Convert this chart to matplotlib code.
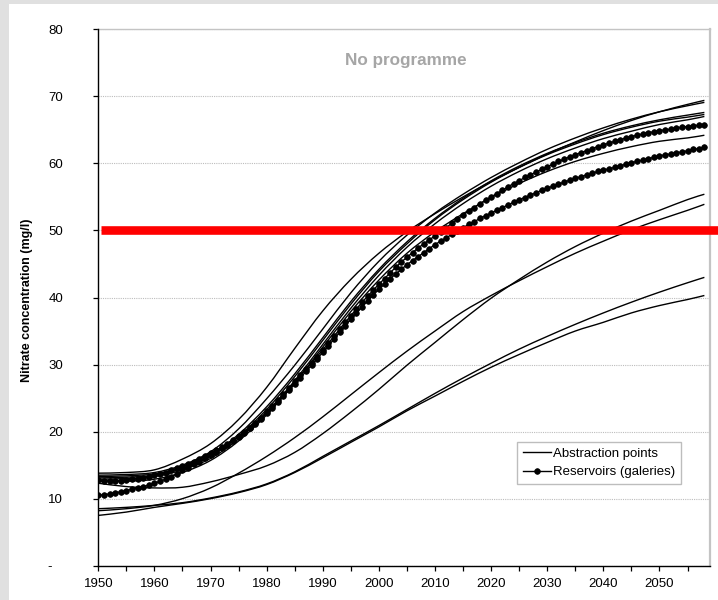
import matplotlib
matplotlib.use("Agg")
import matplotlib.pyplot as plt
from matplotlib.patches import Rectangle, PathPatch
from matplotlib.path import Path
from matplotlib.lines import Line2D
from matplotlib.ticker import MultipleLocator, FixedLocator
import matplotlib.transforms as mtransforms

plt.rcParams['font.family'] = ['Liberation Sans', 'DejaVu Sans']

# ---- data -------------------------------------------------------------
years_5 = [1950, 1955, 1960, 1965, 1970, 1975, 1980, 1985, 1990, 1995,
           2000, 2005, 2010, 2015, 2020, 2025, 2030, 2035, 2040, 2045,
           2050, 2055, 2058]

# nitrate concentration (mg/l) at individual abstraction points
abstraction_1 = [13.8, 13.9, 14.3, 15.9, 18.2, 21.8, 26.6, 32.4, 38.0, 42.7, 46.6, 49.8,
                 52.5, 55.0, 57.3, 59.4, 61.4, 63.2, 64.9, 66.4, 67.7, 68.8, 69.4]
abstraction_2 = [13.5, 13.6, 13.9, 15.0, 17.0, 20.4, 24.9, 29.9, 35.3, 40.7, 45.4, 49.3,
                 52.6, 55.4, 57.9, 60.1, 62.1, 63.8, 65.3, 66.6, 67.7, 68.6, 69.1]
abstraction_3 = [13.3, 13.4, 13.7, 14.7, 16.5, 19.6, 23.7, 28.6, 34.0, 39.4, 44.2, 48.3,
                 51.8, 54.8, 57.4, 59.6, 61.5, 63.1, 64.5, 65.6, 66.5, 67.2, 67.6]
abstraction_4 = [13.1, 13.2, 13.5, 14.5, 16.3, 19.3, 23.3, 28.2, 33.6, 39.0, 43.9, 48.0,
                 51.6, 54.6, 57.2, 59.4, 61.3, 62.9, 64.3, 65.4, 66.3, 66.9, 67.3]
abstraction_5 = [12.9, 13.0, 13.3, 14.3, 16.0, 18.9, 22.8, 27.6, 33.0, 38.4, 43.3, 47.5,
                 51.0, 54.0, 56.6, 58.8, 60.7, 62.3, 63.7, 64.8, 65.8, 66.5, 67.0]
abstraction_6 = [12.6, 12.6, 12.9, 13.9, 15.7, 18.6, 22.5, 27.3, 32.6, 37.9, 42.6, 46.6,
                 49.8, 52.5, 54.9, 57.0, 58.8, 60.3, 61.5, 62.5, 63.3, 63.8, 64.2]
abstraction_7 = [8.2, 8.5, 9.0, 10.0, 11.6, 13.8, 16.3, 19.1, 22.2, 25.5, 28.8, 32.0,
                 35.0, 37.9, 40.3, 42.5, 44.6, 46.6, 48.4, 50.1, 51.6, 53.0, 53.9]
abstraction_8 = [12.3, 11.8, 11.6, 11.7, 12.5, 13.6, 14.9, 16.9, 19.7, 22.9, 26.3, 29.9,
                 33.3, 36.7, 39.9, 42.7, 45.3, 47.6, 49.6, 51.4, 53.0, 54.6, 55.4]
abstraction_9 = [8.5, 8.7, 9.0, 9.4, 10.1, 11.0, 12.2, 14.0, 16.3, 18.6, 20.9, 23.3,
                 25.7, 28.0, 30.2, 32.3, 34.2, 36.0, 37.7, 39.3, 40.8, 42.2, 43.0]
abstraction_10 = [7.5, 8.0, 8.7, 9.3, 10.0, 10.9, 12.1, 13.9, 16.1, 18.4, 20.7, 23.1,
                  25.3, 27.5, 29.6, 31.5, 33.3, 35.0, 36.3, 37.7, 38.8, 39.7, 40.3]

abstraction_points = [abstraction_1, abstraction_2, abstraction_3, abstraction_4,
                      abstraction_5, abstraction_6, abstraction_7, abstraction_8,
                      abstraction_9, abstraction_10]

# yearly values for the two reservoirs (galleries), 1950-2058
years_1 = list(range(1950, 2059))
reservoir_1 = [
    12.8, 12.7, 12.7, 12.7, 12.7, 12.8, 12.9, 13.0, 13.1, 13.3,
    13.5, 13.7, 13.9, 14.2, 14.5, 14.8, 15.1, 15.5, 15.9, 16.3,
    16.8, 17.2, 17.7, 18.2, 18.7, 19.3, 19.9, 20.6, 21.3, 22.1,
    23.0, 23.8, 24.7, 25.6, 26.5, 27.5, 28.4, 29.3, 30.3, 31.2,
    32.2, 33.2, 34.2, 35.3, 36.3, 37.3, 38.3, 39.3, 40.2, 41.1,
    42.0, 42.8, 43.7, 44.5, 45.3, 46.0, 46.7, 47.4, 48.0, 48.6,
    49.2, 49.8, 50.4, 51.1, 51.7, 52.3, 52.9, 53.4, 54.0, 54.5,
    55.0, 55.5, 56.0, 56.5, 57.0, 57.4, 57.9, 58.3, 58.7, 59.1,
    59.5, 59.9, 60.3, 60.6, 61.0, 61.3, 61.6, 61.9, 62.2, 62.5,
    62.8, 63.0, 63.3, 63.5, 63.8, 64.0, 64.2, 64.4, 64.6, 64.7,
    64.9, 65.0, 65.1, 65.3, 65.4, 65.5, 65.6, 65.7, 65.8]
reservoir_2 = [
    10.5, 10.6, 10.7, 10.9, 11.0, 11.2, 11.4, 11.6, 11.8, 12.0,
    12.3, 12.6, 12.9, 13.3, 13.7, 14.2, 14.6, 15.1, 15.5, 16.0,
    16.5, 17.0, 17.5, 18.0, 18.6, 19.2, 19.8, 20.5, 21.2, 21.9,
    22.7, 23.5, 24.4, 25.3, 26.2, 27.1, 28.0, 29.0, 29.9, 30.9,
    31.8, 32.8, 33.8, 34.8, 35.8, 36.8, 37.7, 38.6, 39.5, 40.4,
    41.2, 42.0, 42.8, 43.5, 44.2, 44.9, 45.5, 46.1, 46.7, 47.3,
    47.9, 48.4, 48.9, 49.4, 49.9, 50.4, 50.9, 51.3, 51.8, 52.2,
    52.6, 53.0, 53.4, 53.8, 54.2, 54.6, 54.9, 55.3, 55.6, 56.0,
    56.3, 56.6, 56.9, 57.2, 57.5, 57.8, 58.0, 58.3, 58.5, 58.8,
    59.0, 59.2, 59.4, 59.6, 59.9, 60.1, 60.3, 60.5, 60.7, 60.9,
    61.1, 61.3, 61.4, 61.6, 61.7, 61.9, 62.1, 62.2, 62.4]
reservoirs = [reservoir_1, reservoir_2]

drinking_water_limit = 50
limit_years = [1950.5, 2063]

y_ticks = [0, 10, 20, 30, 40, 50, 60, 70, 80]
y_tick_labels = ['-   ', '10', '20', '30', '40', '50', '60', '70', '80']
x_ticks = [1950, 1960, 1970, 1980, 1990, 2000, 2010, 2020, 2030, 2040, 2050]


def smooth_path(xs, ys):
    """Smoothed line (cubic Bezier segments) through every data point."""
    pts = list(zip(xs, ys))
    n = len(pts)
    verts = [pts[0]]
    codes = [Path.MOVETO]
    for i in range(n - 1):
        p0 = pts[max(i - 1, 0)]
        p1 = pts[i]
        p2 = pts[i + 1]
        p3 = pts[min(i + 2, n - 1)]
        c1 = (p1[0] + (p2[0] - p0[0]) / 6, p1[1] + (p2[1] - p0[1]) / 6)
        c2 = (p2[0] - (p3[0] - p1[0]) / 6, p2[1] - (p3[1] - p1[1]) / 6)
        verts += [c1, c2, p2]
        codes += [Path.CURVE4] * 3
    return Path(verts, codes)


# ---- figure -----------------------------------------------------------
W, H = 718, 600
fig = plt.figure(figsize=(W / 100, H / 100), dpi=100, facecolor='#e0e0e0')
fig.patches.append(Rectangle((9 / W, 0), (W - 9) / W, (H - 4) / H,
                             transform=fig.transFigure, facecolor='white',
                             edgecolor='none', zorder=-10))

left, right, top, bottom = 98.3, 710.0, 29.3, 565.7
ax = fig.add_axes([left / W, 1 - bottom / H, (right - left) / W, (bottom - top) / H])
ax.set_zorder(1)
ax.set_facecolor('white')

for series in abstraction_points:
    ax.add_patch(PathPatch(smooth_path(years_5, series), facecolor='none',
                           edgecolor='black', lw=1.0, zorder=3))

for series in reservoirs:
    ax.plot(years_1, series, color='black', lw=1.0, marker='o', markersize=4.1,
            markeredgewidth=0.5, markeredgecolor='black', zorder=4)

ax.plot(limit_years, [drinking_water_limit] * 2, color='#ff0000', lw=6.2,
        solid_capstyle='butt', clip_on=False, zorder=6)

ax.set_xlim(1950, 2059)
ax.set_ylim(0, 80)

ax.xaxis.set_major_locator(FixedLocator(x_ticks))
ax.xaxis.set_minor_locator(MultipleLocator(5))
ax.set_yticks(y_ticks)
ax.set_yticklabels(y_tick_labels)

ax.tick_params(axis='both', which='both', direction='out', length=3.6,
               width=0.9, color='black', labelsize=9.5, labelcolor='black')
ax.tick_params(axis='x', which='major', pad=5.5)
ax.tick_params(axis='y', which='major', pad=21.8)

ax.yaxis.grid(True, color='#bdbdbd', linestyle=(0, (1, 1)), linewidth=0.8)
ax.set_axisbelow(True)

for side in ('left', 'bottom'):
    ax.spines[side].set_color('black')
    ax.spines[side].set_linewidth(1.0)
    ax.spines[side].set_zorder(5)
ax.spines['top'].set_color('#c4c4c4')
ax.spines['top'].set_linewidth(1.0)
ax.spines['right'].set_color('#c4c4c4')
ax.spines['right'].set_linewidth(1.6)

ax.set_ylabel('Nitrate concentration (mg/l)', fontsize=9, fontweight='bold',
              labelpad=0)
ax.yaxis.set_label_coords((33.5 - left) / (right - left), 0.495)

trans = mtransforms.blended_transform_factory(ax.transAxes, ax.transData)
ax.text(0.502, 74.7, 'No programme', transform=trans, ha='center', va='baseline',
        fontsize=12.3, fontweight='bold', color='#a6a6a6')

handles = [Line2D([], [], color='black', lw=1.0),
           Line2D([], [], color='black', lw=1.0, marker='o', markersize=4.1,
                  markeredgewidth=0.5)]
leg = ax.legend(handles, ['Abstraction points', 'Reservoirs (galeries)'],
                loc='center', bbox_to_anchor=(0.8185, 0.1915), fontsize=9.5,
                frameon=True, fancybox=False, edgecolor='#bdbdbd', framealpha=1,
                handlelength=2.1, handletextpad=0.15, borderpad=0.45,
                labelspacing=0.45, numpoints=1, borderaxespad=0)
leg.get_frame().set_linewidth(1.0)
leg.set_zorder(7)

fig.savefig('out.png', dpi=100, facecolor=fig.get_facecolor())
